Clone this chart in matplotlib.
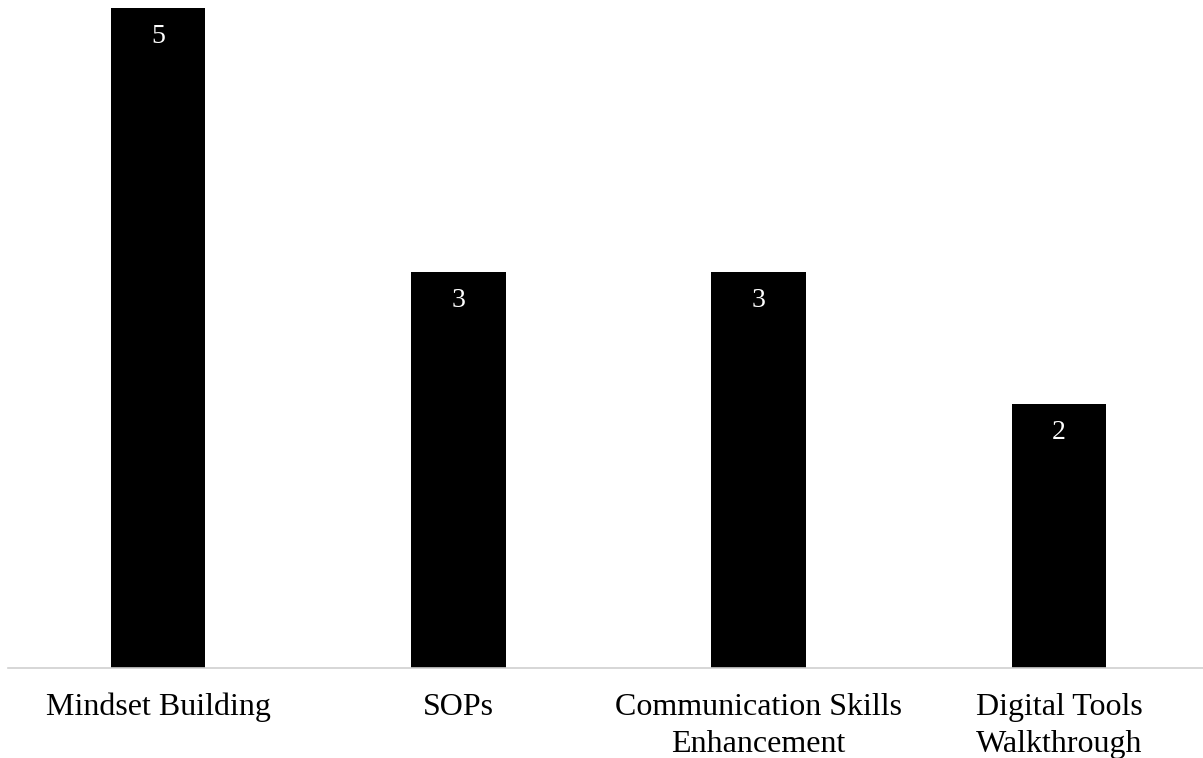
import matplotlib.pyplot as plt

categories = ['Mindset Building', 'SOPs', 'Communication Skills\nEnhancement', 'Digital Tools\nWalkthrough']
values = [5, 3, 3, 2]

plt.rcParams['font.family'] = ['Liberation Serif', 'DejaVu Serif']

fig = plt.figure(figsize=(12.03, 7.58), dpi=100)
ax = fig.add_axes([8 / 1203, 90 / 758, 1195 / 1203, 660 / 758])

x = range(len(categories))
bars = ax.bar(x, values, width=0.315, color='black')

for b, v in zip(bars, values):
    ax.text(b.get_x() + b.get_width() / 2, v - 0.12, str(v),
            ha='center', va='top', color='white', fontsize=20)

ax.set_xlim(-0.5, 3.48)
ax.set_ylim(0, 5)
ax.set_xticks(list(x))
ax.set_xticklabels(categories, fontsize=23)
for lbl in ax.get_xticklabels():
    lbl.set_linespacing(1.35)
ax.tick_params(axis='x', length=0, pad=18)
ax.set_yticks([])
for s in ['top', 'right', 'left']:
    ax.spines[s].set_visible(False)
ax.spines['bottom'].set_color('#d0d0d0')
ax.spines['bottom'].set_linewidth(1.2)

fig.savefig('out.png', dpi=100)
